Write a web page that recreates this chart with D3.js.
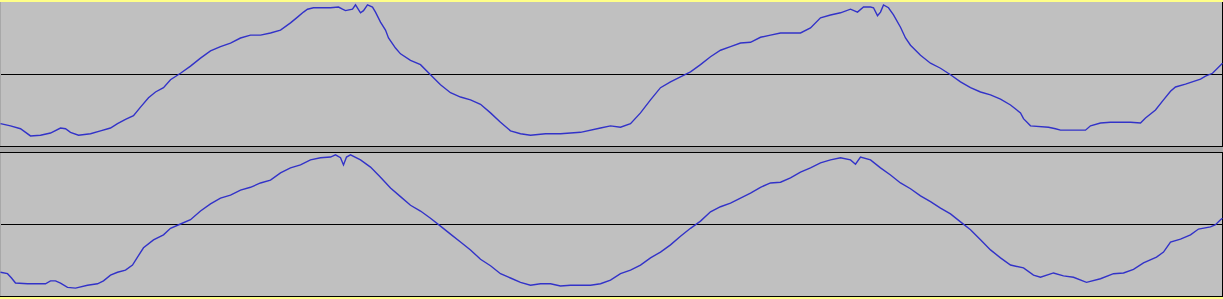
<!DOCTYPE html>
<meta charset="utf-8">
<style>
  body { margin: 0; background: #a8a8a8; }
  svg { display: block; }
</style>
<script src="https://d3js.org/d3.v7.min.js"></script>
<svg id="wave"></svg>
<script>
// sample positions and amplitudes (-1..1) for each channel
var leftPos = [0,10,20,30,40,50,60,65,70,78,90,100,110,117,125,133,140,148,155,163,170,180,190,200,210,220,230,240,250,260,270,280,290,297,303,307,313,330,338,342,345,352,355,360,363,367,372,375,380,385,388,395,400,410,420,430,440,450,460,470,480,490,500,510,520,530,545,560,580,600,610,620,630,640,650,660,670,680,690,700,710,720,730,740,750,760,770,780,790,800,810,820,830,840,850,857,863,870,873,877,880,883,888,893,900,905,910,920,930,940,950,960,970,980,990,1000,1010,1020,1023,1030,1048,1055,1060,1085,1090,1100,1110,1130,1140,1145,1155,1163,1170,1175,1185,1200,1205,1212,1222];
var leftAmp = [-0.69,-0.72,-0.76,-0.86,-0.85,-0.82,-0.75,-0.76,-0.81,-0.85,-0.83,-0.79,-0.75,-0.69,-0.63,-0.58,-0.46,-0.33,-0.25,-0.19,-0.08,0.01,0.11,0.22,0.32,0.38,0.43,0.50,0.54,0.54,0.57,0.61,0.71,0.79,0.86,0.90,0.92,0.92,0.93,0.90,0.88,0.90,0.96,0.85,0.88,0.96,0.93,0.86,0.72,0.61,0.50,0.36,0.28,0.19,0.13,-0.01,-0.15,-0.26,-0.32,-0.36,-0.42,-0.54,-0.67,-0.79,-0.83,-0.85,-0.83,-0.83,-0.81,-0.75,-0.72,-0.74,-0.69,-0.54,-0.36,-0.19,-0.11,-0.04,0.03,0.13,0.24,0.33,0.38,0.43,0.44,0.51,0.54,0.57,0.57,0.57,0.64,0.78,0.82,0.85,0.90,0.86,0.93,0.93,0.92,0.81,0.86,0.96,0.92,0.82,0.65,0.50,0.40,0.26,0.15,0.08,-0.01,-0.11,-0.19,-0.25,-0.29,-0.35,-0.43,-0.54,-0.62,-0.72,-0.74,-0.76,-0.78,-0.78,-0.72,-0.68,-0.67,-0.67,-0.68,-0.61,-0.50,-0.36,-0.24,-0.18,-0.14,-0.07,-0.03,0.01,0.15];

var rightPos = [0,7,11,15,27,37,45,50,55,60,67,75,87,97,103,110,117,125,132,137,143,153,163,170,180,190,200,210,220,230,240,250,260,270,280,290,300,310,320,330,335,340,343,346,350,360,370,380,390,400,410,420,430,440,450,460,470,480,490,500,510,520,530,540,550,560,570,580,590,600,610,620,630,640,650,660,670,680,690,700,710,720,730,740,750,760,770,780,790,800,810,820,830,840,850,855,860,870,880,890,900,910,920,930,940,950,960,970,980,990,1000,1010,1023,1033,1040,1053,1063,1073,1086,1100,1113,1123,1133,1143,1156,1163,1170,1180,1190,1198,1210,1215,1220,1222];
var rightAmp = [-0.67,-0.69,-0.75,-0.82,-0.83,-0.83,-0.83,-0.79,-0.79,-0.82,-0.88,-0.89,-0.85,-0.83,-0.79,-0.71,-0.67,-0.64,-0.57,-0.46,-0.33,-0.22,-0.15,-0.06,0.00,0.06,0.18,0.28,0.36,0.40,0.47,0.51,0.57,0.61,0.71,0.78,0.82,0.89,0.92,0.93,0.96,0.92,0.82,0.93,0.96,0.89,0.79,0.65,0.50,0.38,0.26,0.18,0.08,-0.03,-0.14,-0.25,-0.36,-0.49,-0.58,-0.69,-0.75,-0.81,-0.85,-0.83,-0.83,-0.86,-0.85,-0.85,-0.85,-0.83,-0.78,-0.69,-0.64,-0.57,-0.47,-0.39,-0.29,-0.17,-0.06,0.04,0.17,0.24,0.29,0.36,0.43,0.51,0.57,0.58,0.64,0.72,0.78,0.85,0.89,0.92,0.89,0.83,0.93,0.89,0.78,0.68,0.57,0.49,0.39,0.31,0.22,0.14,0.03,-0.08,-0.22,-0.36,-0.47,-0.57,-0.61,-0.71,-0.74,-0.68,-0.72,-0.74,-0.81,-0.76,-0.69,-0.68,-0.63,-0.54,-0.46,-0.39,-0.25,-0.21,-0.15,-0.07,-0.04,-0.01,0.06,0.08];

var width = 1223, height = 299;
var svg = d3.select("#wave").attr("width", width).attr("height", height);

var x = d3.scaleLinear().domain([0, 1222]).range([0, 1222]);

var tracks = [
  { pos: leftPos, amp: leftAmp, top: 2, bottom: 146 },
  { pos: rightPos, amp: rightAmp, top: 152, bottom: 296 }
];

// frame
svg.append("rect").attr("width", width).attr("height", height).attr("fill", "#a8a8a8");
svg.append("rect").attr("x", 0).attr("y", 0).attr("width", width).attr("height", 2).attr("fill", "#ffff88");
svg.append("rect").attr("x", 0).attr("y", 297).attr("width", width).attr("height", 2).attr("fill", "#ffff88");

tracks.forEach(function (t) {
  var y = d3.scaleLinear().domain([-1, 1]).range([t.bottom, t.top]);
  var g = svg.append("g");

  g.append("rect")
    .attr("x", 1).attr("y", t.top)
    .attr("width", 1221).attr("height", t.bottom - t.top)
    .attr("fill", "#c0c0c0");

  // zero line
  g.append("line")
    .attr("x1", 1).attr("x2", 1222)
    .attr("y1", y(0) + 0.5).attr("y2", y(0) + 0.5)
    .attr("stroke", "#000").attr("stroke-width", 1);

  // track border lines
  g.append("line")
    .attr("x1", 0).attr("x2", width)
    .attr("y1", t.bottom + 0.5).attr("y2", t.bottom + 0.5)
    .attr("stroke", "#000");
  if (t.top > 10) {
    g.append("line")
      .attr("x1", 0).attr("x2", width)
      .attr("y1", t.top + 0.5).attr("y2", t.top + 0.5)
      .attr("stroke", "#000");
  }
  g.append("line")
    .attr("x1", 1222.5).attr("x2", 1222.5)
    .attr("y1", t.top).attr("y2", t.bottom)
    .attr("stroke", "#000");

  var pts = t.pos.map(function (p, i) { return [p, t.amp[i]]; });
  var line = d3.line()
    .x(function (d) { return x(d[0]) + 0.5; })
    .y(function (d) { return y(d[1]); });

  g.append("path")
    .datum(pts)
    .attr("d", line)
    .attr("fill", "none")
    .attr("stroke", "#3232c8")
    .attr("stroke-width", 1.4);
});
</script>
